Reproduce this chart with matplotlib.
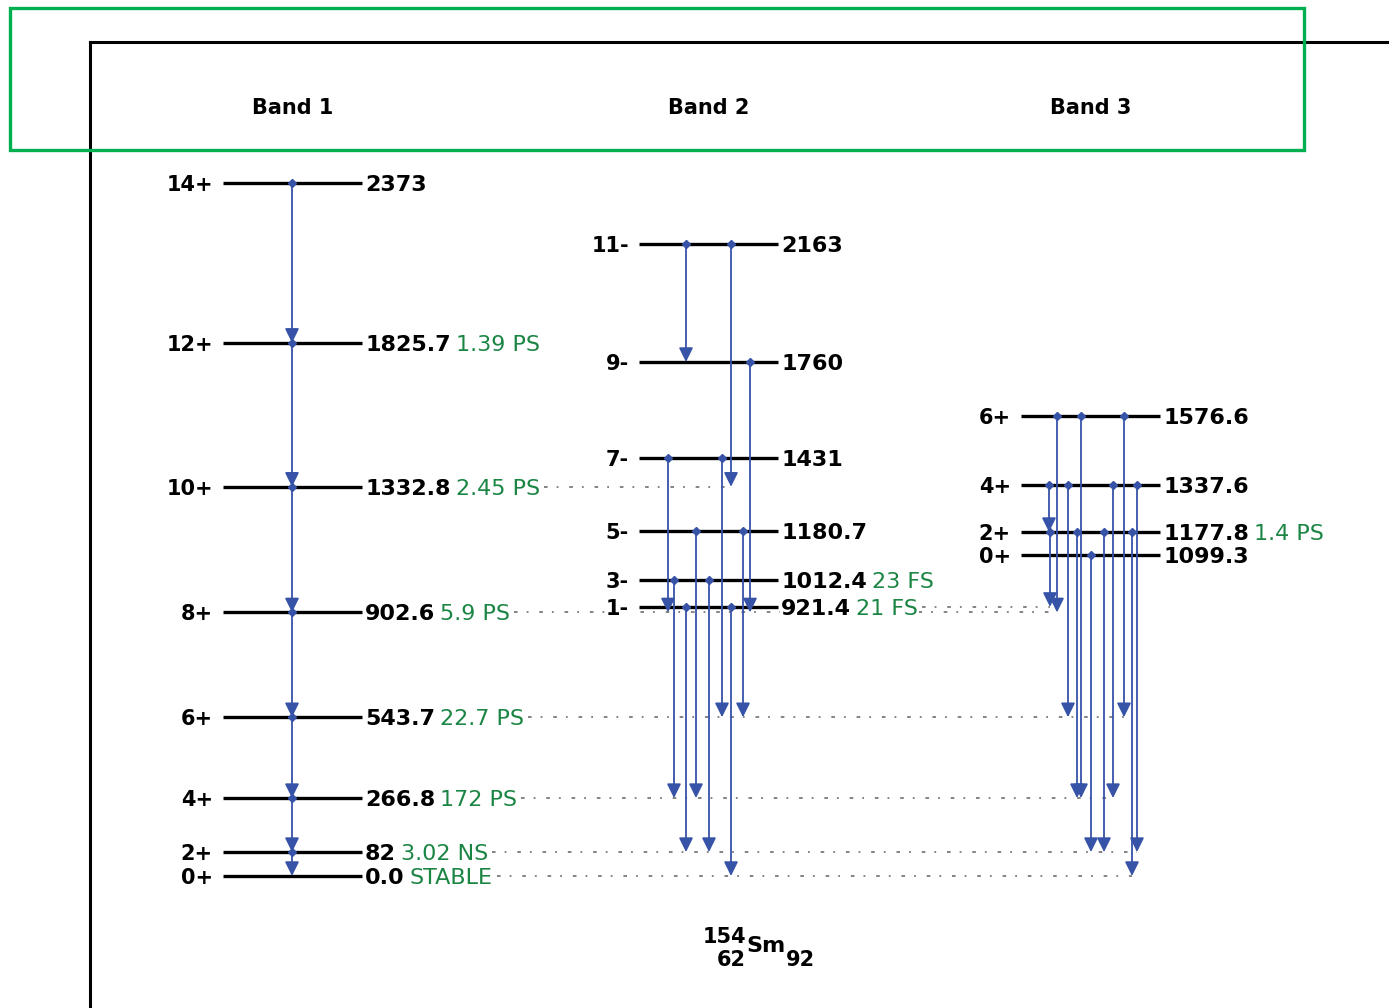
import matplotlib
matplotlib.use("Agg")
import matplotlib.pyplot as plt
from matplotlib.patches import Rectangle

# ---- level scheme data (keV) ----
band_titles = ["Band 1", "Band 2", "Band 3"]

band1_energy = [0.0, 82, 266.8, 543.7, 902.6, 1332.8, 1825.7, 2373]
band1_elabel = ["0.0", "82", "266.8", "543.7", "902.6", "1332.8", "1825.7", "2373"]
band1_spin = ["0+", "2+", "4+", "6+", "8+", "10+", "12+", "14+"]
band1_life = ["STABLE", "3.02 NS", "172 PS", "22.7 PS", "5.9 PS", "2.45 PS", "1.39 PS", ""]

band2_energy = [921.4, 1012.4, 1180.7, 1431, 1760, 2163]
band2_elabel = ["921.4", "1012.4", "1180.7", "1431", "1760", "2163"]
band2_spin = ["1-", "3-", "5-", "7-", "9-", "11-"]
band2_life = ["21 FS", "23 FS", "", "", "", ""]

band3_energy = [1099.3, 1177.8, 1337.6, 1576.6]
band3_elabel = ["1099.3", "1177.8", "1337.6", "1576.6"]
band3_spin = ["0+", "2+", "4+", "6+"]
band3_life = ["", "1.4 PS", "", ""]

# gamma transitions: (initial level, final level)
band1_gammas = [(2373, 1825.7), (1825.7, 1332.8), (1332.8, 902.6), (902.6, 543.7),
                (543.7, 266.8), (266.8, 82), (82, 0.0)]
band2_gammas = [(2163, 1760), (2163, 1332.8), (1760, 902.6), (1431, 902.6),
                (1431, 543.7), (1180.7, 266.8), (1180.7, 543.7), (1012.4, 266.8),
                (1012.4, 82), (921.4, 82), (921.4, 0.0)]
band3_gammas = [(1576.6, 902.6), (1576.6, 266.8), (1576.6, 543.7), (1337.6, 1177.8),
                (1337.6, 543.7), (1337.6, 266.8), (1337.6, 82), (1177.8, 921.4),
                (1177.8, 266.8), (1177.8, 82), (1177.8, 0.0), (1099.3, 82)]

nuclide = ("154", "62", "Sm", "92")

# ---- layout (pixels) ----
W, H = 1389, 1008
PX_PER_KEV = 0.29204   # vertical scale
Y_ZERO = 876           # pixel row of the ground state
band_span = [(223, 362), (639, 778), (1021, 1160)]
band1_gx = [292] * 7
band2_gx = [686, 731, 750, 668, 722, 696, 743, 674, 709, 686, 731]
band3_gx = [1057, 1081, 1124, 1049, 1068, 1113, 1137, 1050, 1077, 1104, 1132, 1091]

BLUE = "#3653a8"
GREEN = "#1b8544"
FONT = "DejaVu Sans"
BG = dict(facecolor="white", edgecolor="none", pad=0.5)

fig = plt.figure(figsize=(W / 100, H / 100), dpi=100)
fig.patch.set_facecolor("white")

# axes whose left/top spines sit at x=90, y=42 px; right/bottom run off the figure
bottom_px = H + 100
ax = fig.add_axes([90 / W, 1 - bottom_px / H, 1.2, (bottom_px - 42) / H])
ax.set_xlim(90, 90 + 1.2 * W)
ax.set_ylim((Y_ZERO - bottom_px) / PX_PER_KEV, (Y_ZERO - 42) / PX_PER_KEV)
ax.set_xticks([])
ax.set_yticks([])
for side in ("right", "bottom"):
    ax.spines[side].set_visible(False)
for side in ("left", "top"):
    ax.spines[side].set_linewidth(2.2)
    ax.spines[side].set_color("black")

bands = [
    (band1_energy, band1_elabel, band1_spin, band1_life, band1_gammas, band1_gx),
    (band2_energy, band2_elabel, band2_spin, band2_life, band2_gammas, band2_gx),
    (band3_energy, band3_elabel, band3_spin, band3_life, band3_gammas, band3_gx),
]

renderer = fig.canvas.get_renderer()
to_data = ax.transData.inverted()
label_end = {}   # energy -> x where its label text ends
level_band = {}

for b, (energy, elabel, spin, life, gammas, gx) in enumerate(bands):
    x0, x1 = band_span[b]
    fig.text((x0 + x1) / 2 / W, 1 - 108 / H, band_titles[b], ha="center", va="center",
             fontsize=15, fontweight="bold", family=FONT)
    for E, el, sp, lf in zip(energy, elabel, spin, life):
        level_band[E] = b
        ax.plot([x0, x1], [E, E], color="black", lw=2.4, solid_capstyle="butt", zorder=2)
        ax.text(x0 - 10, E, sp, ha="right", va="center_baseline", fontsize=15,
                fontweight="bold", family=FONT, zorder=5, bbox=BG)
        t = ax.text(x1 + 3, E, el, ha="left", va="center_baseline", fontsize=16,
                    fontweight="bold", family=FONT, zorder=5, bbox=BG)
        end = to_data.transform((t.get_window_extent(renderer).x1, 0))[0]
        if lf:
            t2 = ax.text(end + 5, E, lf, ha="left", va="center_baseline", fontsize=16,
                         color=GREEN, family=FONT, zorder=5, bbox=BG)
            end = to_data.transform((t2.get_window_extent(renderer).x1, 0))[0]
        label_end[E] = end

# dotted guide lines for levels fed from other bands
feed_x = {}
for b, (energy, elabel, spin, life, gammas, gx) in enumerate(bands):
    for (Ei, Ef), x in zip(gammas, gx):
        if level_band[Ef] != b:
            feed_x[Ef] = max(feed_x.get(Ef, 0), x)
for Ef, xmax in feed_x.items():
    ax.plot([label_end[Ef] + 4, xmax], [Ef, Ef], color="#7a7a7a", lw=1.3,
            linestyle=(0, (2, 5, 1, 6)), zorder=1)

# gamma arrows
for b, (energy, elabel, spin, life, gammas, gx) in enumerate(bands):
    for (Ei, Ef), x in zip(gammas, gx):
        ax.annotate("", xy=(x, Ef), xytext=(x, Ei), zorder=3,
                    arrowprops=dict(arrowstyle="-|>,head_length=0.85,head_width=0.42",
                                    color=BLUE, lw=1.3, shrinkA=0, shrinkB=0,
                                    mutation_scale=10))
        ax.plot(x, Ei, marker="D", ms=4.5, color=BLUE, mec=BLUE, zorder=4)

# nuclide label
mass, charge, symbol, neutrons = nuclide
fig.text(703 / W, 1 - 937 / H, mass, ha="left", va="center", fontsize=15,
         fontweight="bold", family=FONT)
fig.text(717 / W, 1 - 960 / H, charge, ha="left", va="center", fontsize=15,
         fontweight="bold", family=FONT)
fig.text(746 / W, 1 - 946 / H, symbol, ha="left", va="center", fontsize=16,
         fontweight="bold", family=FONT)
fig.text(786 / W, 1 - 960 / H, neutrons, ha="left", va="center", fontsize=15,
         fontweight="bold", family=FONT)

# green highlight box around the band headers
fig.add_artist(Rectangle((10 / W, 1 - 150 / H), 1294 / W, 142 / H,
                         transform=fig.transFigure, fill=False,
                         edgecolor="#00b050", linewidth=2.4, zorder=10))

fig.savefig("out.png", dpi=100)
